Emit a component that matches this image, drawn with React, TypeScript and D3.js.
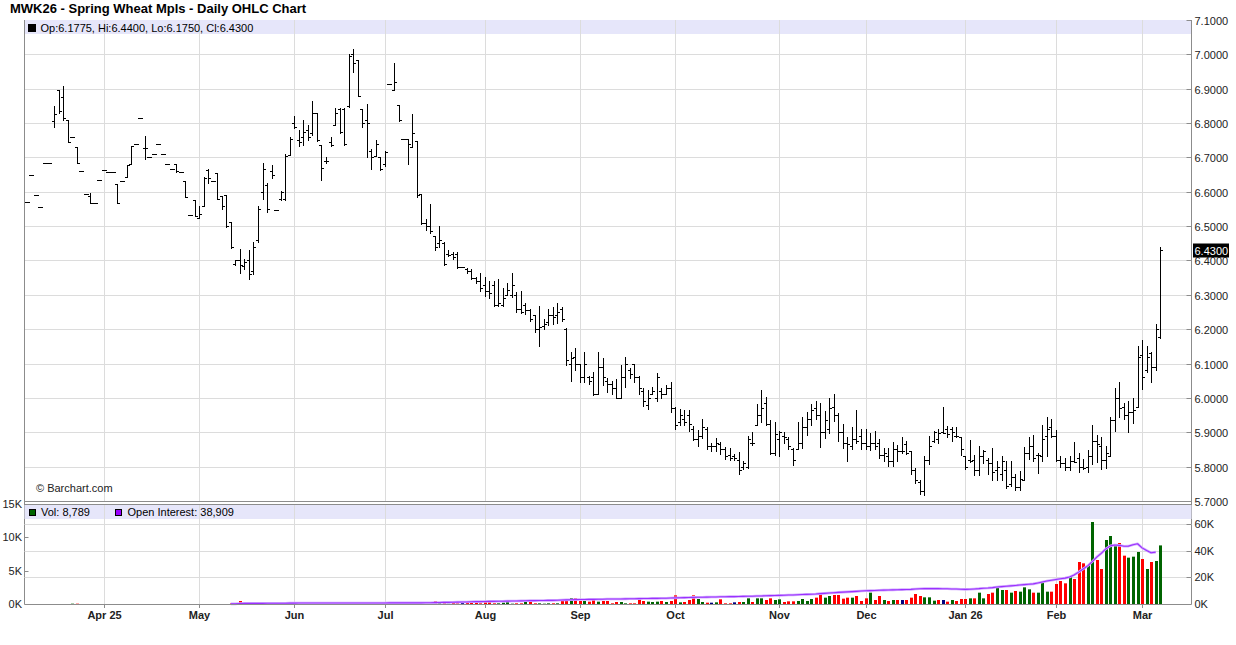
import React from "react";
import * as d3 from "d3";

const title = "MWK26 - Spring Wheat Mpls - Daily OHLC Chart";
const firstDay = "2025-03-07";
const lastDay = "2026-03-06";
const holidays = ["2025-04-18", "2025-05-26", "2025-06-19", "2025-07-04", "2025-09-01", "2025-11-27", "2025-12-25", "2026-01-01", "2026-01-19", "2026-02-16"];
const monthLabels = ["Apr 25", "May", "Jun", "Jul", "Aug", "Sep", "Oct", "Nov", "Dec", "Jan 26", "Feb", "Mar"];

const opens = [
  6.57, 6.6475, 6.59, 6.555, 6.685, 6.685, 6.805, 6.895, 6.875, 6.81,
  6.76, 6.73, 6.66, 6.595, 6.5875, 6.5675, 6.635, 6.6625, 6.6575, 6.6575,
  6.6225, 6.63, 6.6425, 6.68, 6.74, 6.815, 6.7275, 6.70, 6.71, 6.74,
  6.71, 6.68, 6.665, 6.68, 6.6575, 6.63, 6.5325, 6.575, 6.5225, 6.5575,
  6.6625, 6.6325, 6.655, 6.5875, 6.59, 6.5125, 6.39, 6.40, 6.385, 6.40,
  6.37, 6.46, 6.60, 6.62, 6.66, 6.5475, 6.58, 6.58, 6.7075, 6.80,
  6.75, 6.76, 6.78, 6.77, 6.83, 6.735, 6.69, 6.745, 6.795, 6.84,
  6.84, 6.85, 7.00, 6.985, 6.84, 6.81, 6.72, 6.705, 6.70, 6.68,
  6.915, 6.895, 6.8525, 6.7525, 6.7525, 6.73, 6.7475, 6.5925, 6.51, 6.50,
  6.47, 6.45, 6.45, 6.42, 6.42, 6.42, 6.38, 6.375, 6.37, 6.35,
  6.34, 6.33, 6.31, 6.33, 6.27, 6.27, 6.30, 6.30, 6.30, 6.26,
  6.27, 6.255, 6.24, 6.20, 6.21, 6.22, 6.24, 6.24, 6.26, 6.20,
  6.10, 6.12, 6.10, 6.06, 6.06, 6.06, 6.01, 6.09, 6.05, 6.04,
  6.03, 6.00, 6.06, 6.08, 6.0975, 6.06, 6.02, 5.98, 6.01, 6.00,
  6.02, 6.01, 6.03, 5.97, 5.93, 5.94, 5.95, 5.91, 5.88, 5.89,
  5.91, 5.86, 5.86, 5.865, 5.85, 5.835, 5.83, 5.82, 5.80, 5.80,
  5.87, 5.92, 5.95, 5.985, 5.925, 5.84, 5.88, 5.89, 5.88, 5.85,
  5.85, 5.87, 5.915, 5.94, 5.97, 5.95, 5.90, 5.91, 5.975, 5.95,
  5.90, 5.87, 5.86, 5.88, 5.89, 5.87, 5.86, 5.87, 5.87, 5.835,
  5.83, 5.815, 5.85, 5.845, 5.865, 5.845, 5.79, 5.755, 5.73, 5.82,
  5.875, 5.88, 5.90, 5.91, 5.91, 5.89, 5.885, 5.83, 5.82, 5.82,
  5.79, 5.83, 5.82, 5.81, 5.79, 5.78, 5.79, 5.75, 5.77, 5.74,
  5.76, 5.84, 5.86, 5.835, 5.83, 5.89, 5.915, 5.89, 5.82, 5.81,
  5.80, 5.815, 5.825, 5.80, 5.80, 5.83, 5.875, 5.86, 5.82, 5.83,
  5.935, 6.00, 5.975, 5.95, 5.96, 5.975, 6.125, 6.08, 6.13, 6.09,
  6.1775,
];

const highs = [
  6.57, 6.6475, 6.59, 6.555, 6.685, 6.685, 6.85, 6.8975, 6.9075, 6.81,
  6.76, 6.73, 6.66, 6.595, 6.5975, 6.5675, 6.635, 6.6625, 6.6575, 6.6575,
  6.6225, 6.63, 6.6775, 6.7325, 6.74, 6.815, 6.7625, 6.70, 6.71, 6.74,
  6.71, 6.68, 6.665, 6.68, 6.6575, 6.63, 6.5325, 6.575, 6.5575, 6.6425,
  6.665, 6.6325, 6.655, 6.5875, 6.59, 6.5125, 6.40, 6.4325, 6.405, 6.43,
  6.4525, 6.56, 6.6825, 6.625, 6.6775, 6.5475, 6.6025, 6.71, 6.76, 6.82,
  6.78, 6.81, 6.795, 6.865, 6.83, 6.735, 6.70, 6.76, 6.8425, 6.8425,
  6.8425, 7.00, 7.015, 6.985, 6.84, 6.855, 6.725, 6.75, 6.70, 6.72,
  6.915, 6.975, 6.8525, 6.7525, 6.7525, 6.825, 6.7475, 6.5925, 6.52, 6.565,
  6.47, 6.50, 6.4525, 6.43, 6.425, 6.425, 6.38, 6.3775, 6.375, 6.3525,
  6.3625, 6.3525, 6.34, 6.34, 6.3475, 6.32, 6.335, 6.3625, 6.3075, 6.31,
  6.275, 6.26, 6.24, 6.2675, 6.23, 6.2575, 6.265, 6.2775, 6.265, 6.2025,
  6.135, 6.145, 6.10, 6.135, 6.0625, 6.075, 6.135, 6.1175, 6.0575, 6.05,
  6.055, 6.095, 6.12, 6.0875, 6.0975, 6.065, 6.03, 6.0225, 6.0325, 6.0725,
  6.03, 6.0375, 6.045, 5.9725, 5.9675, 5.965, 5.965, 5.9175, 5.9075, 5.9375,
  5.915, 5.87, 5.8825, 5.8725, 5.8575, 5.855, 5.8375, 5.8425, 5.8175, 5.89,
  5.90, 5.9825, 6.0225, 6.0025, 5.935, 5.93, 5.905, 5.90, 5.885, 5.855,
  5.93, 5.945, 5.96, 5.9825, 5.99, 5.985, 5.9625, 6.00, 6.01, 5.955,
  5.925, 5.8875, 5.915, 5.965, 5.91, 5.91, 5.8975, 5.9025, 5.88, 5.855,
  5.855, 5.8725, 5.8625, 5.8875, 5.875, 5.845, 5.7975, 5.76, 5.83, 5.89,
  5.9025, 5.91, 5.975, 5.9175, 5.915, 5.915, 5.8875, 5.83, 5.8775, 5.835,
  5.86, 5.8475, 5.825, 5.855, 5.8175, 5.83, 5.8175, 5.815, 5.78, 5.7875,
  5.8575, 5.885, 5.8925, 5.84, 5.92, 5.945, 5.9375, 5.9075, 5.83, 5.825,
  5.83, 5.8725, 5.84, 5.8225, 5.8475, 5.92, 5.8925, 5.8875, 5.86, 5.945,
  6.03, 6.045, 5.985, 5.99, 6.00, 6.15, 6.17, 6.15, 6.135, 6.215,
  6.44,
];

const lows = [
  6.57, 6.6475, 6.59, 6.555, 6.685, 6.685, 6.7875, 6.83, 6.81, 6.745,
  6.76, 6.685, 6.66, 6.595, 6.5675, 6.5675, 6.635, 6.6625, 6.6575, 6.6575,
  6.5675, 6.63, 6.6425, 6.68, 6.74, 6.815, 6.695, 6.70, 6.71, 6.74,
  6.71, 6.68, 6.665, 6.6575, 6.6575, 6.585, 6.5325, 6.53, 6.5225, 6.5575,
  6.625, 6.6325, 6.58, 6.55, 6.4975, 6.4375, 6.3875, 6.3625, 6.375, 6.345,
  6.36, 6.455, 6.58, 6.5425, 6.64, 6.5475, 6.5775, 6.5775, 6.7075, 6.785,
  6.7325, 6.735, 6.75, 6.765, 6.7475, 6.635, 6.6825, 6.7325, 6.795, 6.77,
  6.7375, 6.8475, 6.95, 6.8775, 6.79, 6.70, 6.665, 6.705, 6.6625, 6.675,
  6.915, 6.895, 6.805, 6.7525, 6.68, 6.73, 6.585, 6.505, 6.49, 6.48,
  6.43, 6.44, 6.3875, 6.4125, 6.405, 6.3775, 6.38, 6.3625, 6.345, 6.335,
  6.31, 6.2975, 6.29, 6.2675, 6.2675, 6.2675, 6.30, 6.2925, 6.25, 6.2475,
  6.245, 6.225, 6.1925, 6.15, 6.20, 6.2125, 6.215, 6.2175, 6.2225, 6.095,
  6.05, 6.08, 6.0475, 6.045, 6.04, 6.0075, 6.01, 6.0375, 6.0175, 6.01,
  6.00, 6.00, 6.0325, 6.0575, 6.0475, 6.0125, 5.9775, 5.9675, 6.01, 5.9925,
  6.00, 6.01, 5.96, 5.91, 5.92, 5.9225, 5.9025, 5.8775, 5.86, 5.8825,
  5.85, 5.845, 5.845, 5.8375, 5.8225, 5.82, 5.82, 5.78, 5.7925, 5.7975,
  5.8625, 5.92, 5.93, 5.92, 5.8375, 5.835, 5.83, 5.87, 5.85, 5.805,
  5.85, 5.855, 5.8925, 5.92, 5.94, 5.8575, 5.8825, 5.8975, 5.9325, 5.875,
  5.855, 5.8175, 5.85, 5.8675, 5.85, 5.85, 5.8475, 5.85, 5.825, 5.815,
  5.8025, 5.8025, 5.815, 5.84, 5.8375, 5.7775, 5.7525, 5.72, 5.7175, 5.8075,
  5.8725, 5.8675, 5.8975, 5.8875, 5.875, 5.885, 5.835, 5.7925, 5.8125, 5.775,
  5.775, 5.81, 5.78, 5.76, 5.76, 5.76, 5.7375, 5.745, 5.7325, 5.7325,
  5.76, 5.8225, 5.815, 5.7825, 5.8175, 5.83, 5.885, 5.815, 5.80, 5.79,
  5.79, 5.8125, 5.785, 5.7925, 5.785, 5.8075, 5.8125, 5.7925, 5.7975, 5.83,
  5.9025, 5.945, 5.94, 5.90, 5.9275, 5.9725, 6.025, 6.075, 6.0475, 6.0825,
  6.175,
];

const closes = [
  6.57, 6.6475, 6.59, 6.555, 6.685, 6.685, 6.825, 6.835, 6.815, 6.745,
  6.76, 6.685, 6.66, 6.595, 6.5675, 6.5675, 6.635, 6.6625, 6.6575, 6.6575,
  6.5675, 6.63, 6.6775, 6.7325, 6.74, 6.815, 6.7275, 6.70, 6.71, 6.74,
  6.71, 6.68, 6.665, 6.66, 6.6575, 6.585, 6.5325, 6.53, 6.535, 6.64,
  6.64, 6.6325, 6.58, 6.56, 6.50, 6.44, 6.40, 6.3875, 6.395, 6.36,
  6.44, 6.55, 6.665, 6.55, 6.6475, 6.5475, 6.60, 6.705, 6.755, 6.79,
  6.745, 6.775, 6.76, 6.83, 6.75, 6.67, 6.69, 6.735, 6.83, 6.775,
  6.74, 6.995, 6.975, 6.88, 6.80, 6.80, 6.70, 6.74, 6.6675, 6.715,
  6.915, 6.92, 6.81, 6.7525, 6.74, 6.77, 6.59, 6.51, 6.50, 6.485,
  6.44, 6.46, 6.39, 6.415, 6.41, 6.38, 6.38, 6.37, 6.35, 6.34,
  6.32, 6.31, 6.305, 6.27, 6.275, 6.29, 6.315, 6.33, 6.26, 6.25,
  6.255, 6.23, 6.20, 6.205, 6.215, 6.24, 6.235, 6.25, 6.23, 6.11,
  6.115, 6.10, 6.06, 6.10, 6.05, 6.01, 6.09, 6.06, 6.04, 6.03,
  6.00, 6.06, 6.10, 6.07, 6.06, 6.03, 5.99, 6.00, 6.02, 6.06,
  6.01, 6.03, 5.97, 5.92, 5.95, 5.93, 5.925, 5.88, 5.89, 5.915,
  5.86, 5.86, 5.87, 5.85, 5.83, 5.825, 5.825, 5.79, 5.81, 5.88,
  5.87, 5.95, 5.97, 5.925, 5.84, 5.895, 5.90, 5.885, 5.86, 5.82,
  5.87, 5.915, 5.94, 5.965, 5.95, 5.90, 5.935, 5.97, 5.95, 5.90,
  5.87, 5.865, 5.88, 5.875, 5.87, 5.86, 5.87, 5.86, 5.835, 5.84,
  5.815, 5.85, 5.845, 5.845, 5.84, 5.79, 5.76, 5.73, 5.82, 5.86,
  5.90, 5.8975, 5.8975, 5.895, 5.90, 5.89, 5.85, 5.80, 5.815, 5.79,
  5.83, 5.845, 5.81, 5.785, 5.80, 5.815, 5.745, 5.77, 5.74, 5.765,
  5.84, 5.86, 5.825, 5.835, 5.88, 5.91, 5.89, 5.82, 5.81, 5.80,
  5.815, 5.8125, 5.80, 5.795, 5.83, 5.875, 5.865, 5.82, 5.84, 5.935,
  6.00, 5.97, 5.95, 5.96, 5.965, 6.12, 6.06, 6.12, 6.09, 6.20,
  6.43,
];

// daily volume, thousands of contracts
const volumes = [
  0, 0, 0, 0, 0, 0, 0, 0, 0, 0,
  0.05, 0.05, 0, 0, 0, 0, 0, 0, 0, 0,
  0, 0, 0, 0, 0, 0, 0, 0, 0, 0,
  0, 0, 0, 0, 0, 0, 0, 0, 0, 0,
  0, 0, 0, 0, 0, 0.08, 0, 0.45, 0.1, 0,
  0, 0, 0.1, 0.1, 0, 0, 0.1, 0, 0.1, 0,
  0.1, 0, 0, 0, 0, 0, 0, 0, 0.12, 0,
  0, 0.1, 0.1, 0, 0, 0, 0.2, 0, 0, 0,
  0.05, 0, 0, 0, 0.08, 0, 0.1, 0, 0.1, 0.1,
  0.45, 0.2, 0.2, 0.05, 0.45, 0.1, 0.2, 0.25, 0.3, 0.45,
  0.1, 0.45, 0.3, 0.1, 0.1, 0.2, 0.3, 0.05, 0.1, 0.1,
  0.3, 0.3, 0.1, 0.1, 0.05, 0.1, 0.1, 0.1, 0.6, 0.7,
  0.9, 0.9, 0.45, 0.45, 0.35, 0.6, 0.35, 0.45, 0.45, 0.1,
  0.3, 0.3, 0.1, 0.1, 0.1, 0.7, 0.45, 0.35, 0.3, 0.35,
  0.45, 0.3, 0.45, 1.3, 0.25, 0.3, 0.6, 1.3, 0.75, 0.3,
  0.2, 0.2, 0.25, 0.7, 0.1, 0.1, 0.25, 0.3, 0.3, 0.85,
  0.3, 0.85, 0.85, 0.6, 0.85, 0.6, 0.7, 0.3, 0.4, 0.4,
  0.45, 0.75, 0.45, 0.75, 0.95, 1.6, 0.95, 1.2, 1.35, 1.35,
  0.8, 0.95, 0.95, 1.2, 0.45, 0.85, 1.7, 0.6, 1.2, 0.6,
  0.45, 0.6, 0.6, 0.6, 0.6, 0.95, 1.5, 1.2, 1.0, 1.0,
  0.5, 0.6, 0.6, 0.35, 0.6, 0.45, 0.75, 0.75, 0.85, 0.85,
  1.7, 0.85, 1.5, 1.7, 2.7, 2.1, 2.1, 1.7, 1.95, 1.85,
  2.5, 2.2, 1.7, 1.7, 3.2, 1.85, 1.85, 3.0, 3.45, 3.1,
  4.2, 3.75, 6.3, 6.1, 5.85, 12.3, 6.6, 5.25, 9.6, 10.2,
  9.0, 9.15, 7.25, 6.95, 7.1, 7.8, 6.75, 5.25, 6.3, 6.45,
  8.789,
];

// open interest, thousands of contracts, starting at trading day 45
const oiStart = 45;
const openInterest = [
  0.1, 0.1, 0.4, 0.45, 0.45, 0.45, 0.45, 0.5, 0.55, 0.55,
  0.55, 0.6, 0.6, 0.65, 0.65, 0.7, 0.7, 0.7, 0.7, 0.7,
  0.7, 0.7, 0.7, 0.7, 0.7, 0.7, 0.75, 0.8, 0.8, 0.8,
  0.8, 0.8, 0.8, 0.8, 0.8, 0.85, 0.85, 0.85, 0.85, 0.85,
  0.85, 0.85, 0.85, 0.9, 0.95, 1.05, 1.1, 1.2, 1.25, 1.35,
  1.4, 1.5, 1.55, 1.65, 1.75, 1.8, 1.9, 1.95, 2.0, 2.05,
  2.1, 2.15, 2.2, 2.3, 2.35, 2.45, 2.5, 2.55, 2.6, 2.65,
  2.7, 2.75, 2.8, 2.95, 3.1, 3.2, 3.3, 3.35, 3.4, 3.45,
  3.5, 3.55, 3.6, 3.7, 3.7, 3.75, 3.8, 3.85, 3.9, 3.95,
  4.05, 4.1, 4.15, 4.2, 4.25, 4.3, 4.35, 4.45, 4.6, 4.7,
  4.75, 4.85, 5.0, 5.05, 5.1, 5.15, 5.2, 5.3, 5.4, 5.45,
  5.5, 5.55, 5.6, 5.7, 5.8, 5.85, 5.95, 6.05, 6.15, 6.3,
  6.4, 6.5, 6.6, 6.7, 6.8, 6.95, 7.1, 7.2, 7.35, 7.5,
  7.8, 8.0, 8.2, 8.45, 8.7, 8.9, 9.1, 9.3, 9.5, 9.7,
  9.9, 10.0, 10.1, 10.3, 10.4, 10.5, 10.6, 10.7, 10.8, 10.9,
  11.0, 11.2, 11.4, 11.5, 11.6, 11.5, 11.5, 11.4, 11.4, 11.3,
  11.2, 11.1, 11.0, 11.1, 11.3, 11.5, 11.8, 12.0, 12.3, 12.7,
  13.0, 13.3, 13.6, 13.9, 14.2, 14.5, 14.8, 15.1, 15.8, 16.5,
  17.2, 17.8, 18.4, 18.9, 19.4, 20.2, 21.8, 23.9, 26.3, 28.6,
  31.8, 35.2, 38.0, 41.3, 43.6, 44.2, 44.0, 43.3, 43.4, 44.5,
  45.2, 42.1, 40.2, 38.4, 38.909,
];

const priceTicks = [5.7, 5.8, 5.9, 6.0, 6.1, 6.2, 6.3, 6.4, 6.5, 6.6, 6.7, 6.8, 6.9, 7.0, 7.1];
const volTicks = [0, 5, 10, 15];
const oiTicks = [0, 20, 40, 60];

const FONT = "'Liberation Sans', Arial, Helvetica, sans-serif";
const W = 1236;
const H = 645;
const L = 24.5;
const R = 1191.5;
const PT = 20;
const PB = 501;
const VT = 504;
const VB = 604;

function tradingDays(): Date[] {
  const out: Date[] = [];
  const d = new Date(firstDay + "T00:00:00Z");
  const end = new Date(lastDay + "T00:00:00Z");
  while (d <= end) {
    const wd = d.getUTCDay();
    const iso = d.toISOString().slice(0, 10);
    if (wd !== 0 && wd !== 6 && !holidays.includes(iso)) out.push(new Date(d.getTime()));
    d.setUTCDate(d.getUTCDate() + 1);
  }
  return out;
}

export default function App() {
  const days = tradingDays();
  const n = opens.length;
  const x = d3.scaleLinear().domain([-0.5, 256.9]).range([L, R]);
  const y = d3.scaleLinear().domain([5.7, 7.1]).range([PB, PT]);
  const yv = d3.scaleLinear().domain([0, 15]).range([VB, VT]);
  const yo = d3.scaleLinear().domain([0, 75]).range([VB, VT]);

  const monthIdx: number[] = [];
  for (let i = 1; i < days.length; i++) {
    if (days[i].getUTCMonth() !== days[i - 1].getUTCMonth()) monthIdx.push(i);
  }

  const px = (i: number) => Math.round(x(i));
  const py = (v: number) => Math.round(y(v));

  const bars = d3.range(n).map((i) => {
    const cx = px(i);
    const yh = py(highs[i]);
    const yl = py(lows[i]);
    const yo_ = py(opens[i]);
    const yc = py(closes[i]);
    return (
      <g key={"b" + i}>
        <rect x={cx} y={yh} width={1} height={Math.max(1, yl - yh + 1)} fill="#000" />
        <rect x={cx - 2} y={yo_} width={2} height={1} fill="#000" />
        <rect x={cx + 1} y={yc} width={2} height={1} fill="#000" />
      </g>
    );
  });

  const volBars = d3.range(n).map((i) => {
    const v = volumes[i];
    if (!v) return null;
    const prev = i > 0 ? closes[i - 1] : closes[i];
    const col = closes[i] > prev ? "#006400" : closes[i] < prev ? "#ff0000" : "#000080";
    const top = yv(v);
    return <rect key={"v" + i} x={px(i) - 1} y={top} width={3} height={VB - top} fill={col} />;
  });

  const oiPts: [number, number][] = openInterest.map((v, k) => [x(oiStart + k), yo(v)]);
  const oiPath = d3.line().curve(d3.curveLinear)(oiPts) || "";

  const fmt4 = d3.format(".4f");
  const last = n - 1;
  const lastClose = closes[last];
  const legendText = `Op:${fmt4(opens[last])}, Hi:${fmt4(highs[last])}, Lo:${fmt4(lows[last])}, Cl:${fmt4(lastClose)}`;
  const volText = `Vol: ${d3.format(",")(Math.round(volumes[last] * 1000))}`;
  const oiText = `Open Interest: ${d3.format(",")(Math.round(openInterest[openInterest.length - 1] * 1000))}`;
  const grid = "#dcdcdc";
  const axisCol = "#8c8c8c";
  const lastY = py(lastClose);

  return (
    <svg width={W} height={H} style={{ position: "absolute", left: 0, top: 0, background: "#fff" }} fontFamily={FONT}>
      <rect x={0} y={0} width={W} height={H} fill="#fff" />
      <text x={10} y={13} fontSize={13} fontWeight="bold" fill="#000">{title}</text>

      {/* price panel */}
      <rect x={L} y={PT} width={R - L} height={14} fill="#e6e6fa" />
      {priceTicks.filter((t) => t < 7.05).map((t) => (
        <line key={"hg" + t} x1={L} x2={R} y1={py(t) + 0.5} y2={py(t) + 0.5} stroke={grid} />
      ))}
      {monthIdx.map((i) => (
        <line key={"vg" + i} x1={px(i) + 0.5} x2={px(i) + 0.5} y1={PT} y2={PB} stroke={grid} />
      ))}
      <rect x={28.5} y={24.5} width={7} height={7} fill="#000" stroke="#000" />
      <text x={40.5} y={31.5} fontSize={11} fill="#000">{legendText}</text>
      <text x={36} y={492} fontSize={11} fill="#222">© Barchart.com</text>
      {bars}

      {/* price axis */}
      <line x1={L} x2={L} y1={PT} y2={VB} stroke={axisCol} />
      <line x1={R} x2={R} y1={PT} y2={VB} stroke={axisCol} />
      <line x1={L} x2={R} y1={PB + 0.5} y2={PB + 0.5} stroke={axisCol} />
      <line x1={L} x2={R} y1={VT + 0.5} y2={VT + 0.5} stroke={axisCol} />
      {priceTicks.map((t) => (
        <g key={"pt" + t}>
          <line x1={R - 5} x2={R} y1={py(t) + 0.5} y2={py(t) + 0.5} stroke={axisCol} />
          {Math.abs(y(t) - y(lastClose)) > 10 && (
            <text x={1194.5} y={py(t) + 4.5} fontSize={11} fill="#222">{fmt4(t)}</text>
          )}
        </g>
      ))}
      <rect x={1193} y={lastY - 6.5} width={36} height={14} fill="#000" />
      <text x={1194.5} y={lastY + 4.5} fontSize={11} fill="#fff">{fmt4(lastClose)}</text>

      {/* volume panel */}
      <rect x={L} y={VT + 1} width={R - L} height={14} fill="#e6e6fa" />
      {oiTicks.filter((t) => t > 0).map((t) => (
        <line key={"og" + t} x1={L} x2={R} y1={Math.round(yo(t)) + 0.5} y2={Math.round(yo(t)) + 0.5} stroke={grid} />
      ))}
      {monthIdx.map((i) => (
        <line key={"vg2" + i} x1={px(i) + 0.5} x2={px(i) + 0.5} y1={VT + 1} y2={VB} stroke={grid} />
      ))}
      <rect x={29.5} y={509.5} width={6} height={6} fill="#006400" stroke="#000" />
      <text x={41} y={516} fontSize={11} fill="#000">{volText}</text>
      <rect x={115.5} y={509.5} width={6} height={6} fill="#9900ff" stroke="#000" />
      <text x={127.5} y={516} fontSize={11} fill="#000">{oiText}</text>
      {volBars}
      <path d={oiPath} fill="none" stroke="#d2acff" strokeWidth={2.6} strokeLinejoin="round" />
      <path d={oiPath} fill="none" stroke="#9b30ff" strokeWidth={1.1} strokeLinejoin="round" />

      <line x1={L} x2={R} y1={VB + 0.5} y2={VB + 0.5} stroke={axisCol} />
      {volTicks.map((t) => (
        <g key={"vt" + t}>
          <line x1={L} x2={L + 4} y1={Math.round(yv(t)) + 0.5} y2={Math.round(yv(t)) + 0.5} stroke={axisCol} />
          <text x={22} y={Math.round(yv(t)) + 4} fontSize={11} textAnchor="end" fill="#222">{t + "K"}</text>
        </g>
      ))}
      {oiTicks.map((t) => (
        <g key={"ot" + t}>
          <line x1={R - 5} x2={R} y1={Math.round(yo(t)) + 0.5} y2={Math.round(yo(t)) + 0.5} stroke={axisCol} />
          <text x={1194.5} y={Math.round(yo(t)) + 4} fontSize={11} fill="#222">{t + "K"}</text>
        </g>
      ))}
      {monthIdx.map((i, k) => (
        <g key={"mt" + i}>
          <line x1={px(i) + 0.5} x2={px(i) + 0.5} y1={VB} y2={VB + 4} stroke={axisCol} />
          <text x={px(i) + 0.5} y={619} fontSize={11} fontWeight="bold" textAnchor="middle" fill="#222">{monthLabels[k]}</text>
        </g>
      ))}
    </svg>
  );
}
